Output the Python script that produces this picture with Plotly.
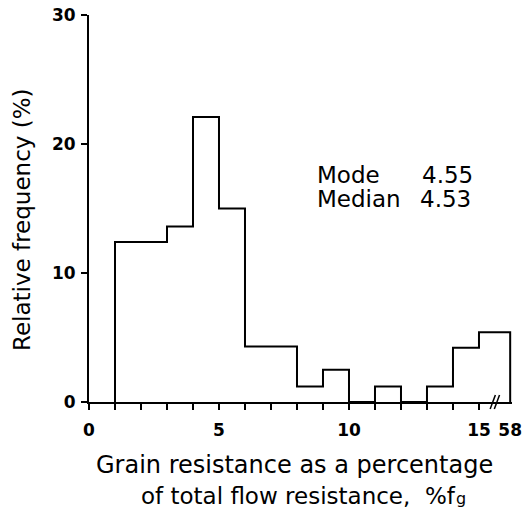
import plotly.graph_objects as go

# Histogram of grain resistance (% of total flow resistance)
bin_edges = [1, 3, 4, 5, 6, 8, 9, 10, 11, 12, 13, 14, 15, 58]
rel_freq = [12.4, 13.6, 22.1, 15.0, 4.3, 1.2, 2.5, 0.0, 1.2, 0.0, 1.2, 4.2, 5.4]
x_tick_values = [0, 5, 10, 15]
y_ticks = [0, 10, 20, 30]
stats_names = ["Mode", "Median"]
stats_values = ["4.55", "4.53"]

# Broken x axis: everything beyond 15 is squeezed into a short stretch
BREAK_AT = 15
BREAK_SPAN = 1.2


def to_axis(v):
    if v <= BREAK_AT:
        return v
    return BREAK_AT + BREAK_SPAN


# Outline of the step histogram
xs = [to_axis(bin_edges[0])]
ys = [0]
for i, h in enumerate(rel_freq):
    xs += [to_axis(bin_edges[i]), to_axis(bin_edges[i + 1])]
    ys += [h, h]
xs.append(to_axis(bin_edges[-1]))
ys.append(0)

FONT = "DejaVu Sans"
TICKFONT = dict(size=17, family=FONT, weight="bold")
PLOT_W, PLOT_L = 423, 89
PLOT_H, PLOT_B = 387, 402


def px_x(p):
    return (p - PLOT_L) / PLOT_W


def px_y(p):
    return (PLOT_B - p) / PLOT_H


fig = go.Figure()
fig.add_trace(go.Scatter(x=xs, y=ys, mode="lines",
                         line=dict(color="black", width=2),
                         cliponaxis=False, showlegend=False, hoverinfo="skip"))

x_end = to_axis(bin_edges[-1])
x_labels_at = x_tick_values + [x_end]
x_labels = [str(v) for v in x_tick_values] + [str(bin_edges[-1])]
fig.update_layout(
    width=523, height=511,
    margin=dict(l=89, r=11, t=15, b=109),
    plot_bgcolor="white", paper_bgcolor="white",
    font=dict(family=FONT, color="black"),
    xaxis=dict(range=[0, x_end + 0.07], showline=True, linecolor="black", linewidth=2,
               automargin=False,
               ticks="", tickmode="array", tickvals=x_labels_at, ticktext=x_labels,
               ticklabelstandoff=12,
               minor=dict(tickmode="array", tickvals=list(range(0, BREAK_AT + 1)),
                          ticks="outside", ticklen=6, tickwidth=2, tickcolor="black"),
               tickfont=TICKFONT, showgrid=False, zeroline=False),
    yaxis=dict(range=[0, 30], showline=True, linecolor="black", linewidth=2,
               automargin=False,
               ticks="outside", ticklen=6, tickwidth=2, tickcolor="black",
               ticklabelstandoff=2,
               tickmode="array", tickvals=y_ticks, ticktext=[str(v) for v in y_ticks],
               tickfont=TICKFONT, showgrid=False, zeroline=False),
)

# Axis break mark
bx = BREAK_AT + BREAK_SPAN * 0.5
for dx in (-0.07, 0.09):
    fig.add_shape(type="line", xref="x", yref="paper",
                  x0=bx + dx - 0.1, x1=bx + dx + 0.1, y0=-7 / PLOT_H, y1=7 / PLOT_H,
                  line=dict(color="black", width=1.5))

# Summary statistics
for name, val, yv, vx in zip(stats_names, stats_values, [17.6, 15.7], [12.73, 12.65]):
    fig.add_annotation(x=8.69, y=yv, text=name, showarrow=False, xanchor="left",
                       yanchor="middle", font=dict(size=23, family=FONT))
    fig.add_annotation(x=vx, y=yv, text=val, showarrow=False, xanchor="left",
                       yanchor="middle", font=dict(size=23, family=FONT))

# Axis titles
fig.add_annotation(x=px_x(22), y=px_y(220), xref="paper", yref="paper",
                   text="Relative frequency (%)", textangle=-90, showarrow=False,
                   font=dict(size=23, family=FONT), xanchor="center", yanchor="middle")
fig.add_annotation(x=px_x(294), y=px_y(481.5), xref="paper", yref="paper",
                   text="Grain resistance as a percentage", showarrow=False,
                   font=dict(size=24, family=FONT), xanchor="center", yanchor="bottom")
fig.add_annotation(x=px_x(458), y=px_y(481.5), xref="paper", yref="paper",
                   text="of total flow resistance,  %f", showarrow=False,
                   font=dict(size=23, family=FONT), xanchor="right", yanchor="top")
# subscript g of %f
fig.add_annotation(x=px_x(454), y=px_y(487), xref="paper", yref="paper",
                   text="g", showarrow=False,
                   font=dict(size=16, family=FONT), xanchor="left", yanchor="top")

fig.write_html("out.html")
